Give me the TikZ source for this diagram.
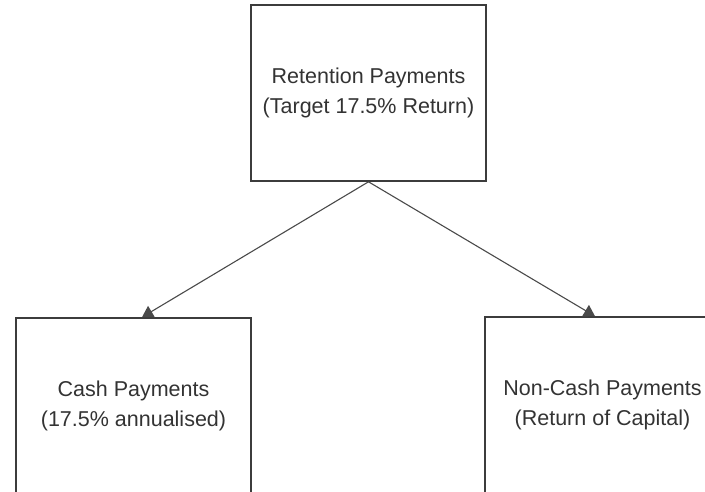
\documentclass[tikz,border=0pt]{standalone}
\usepackage{fontspec}
\setmainfont{Liberation Sans}
\usetikzlibrary{arrows.meta}
\definecolor{boxc}{HTML}{3C3C3C}
\definecolor{linec}{HTML}{4A4A4A}
\definecolor{txtc}{HTML}{333333}
\begin{document}
\begin{tikzpicture}[x=1pt,y=-1pt,
  box/.style={draw=boxc, line width=1.6pt, minimum width=235pt, minimum height=176pt,
    align=center, font=\fontsize{21.5}{30}\selectfont, text=txtc, inner sep=0pt},
  conn/.style={draw=linec, line width=1.1pt, -{Triangle[width=13pt,length=11pt]}}]
\useasboundingbox (0,0) rectangle (705,492);
\clip (0,0) rectangle (705,492);
\node[box] (top) at (368.5,93) {Retention Payments\\(Target 17.5\% Return)};
\node[box] (left) at (133.5,406) {Cash Payments\\(17.5\% annualised)};
\node[box] (right) at (602.5,405) {Non-Cash Payments\\(Return of Capital)};
\draw[conn] (top.south) -- ([xshift=8.5pt]left.north);
\draw[conn] (top.south) -- ([xshift=-7.5pt]right.north);
\end{tikzpicture}
\end{document}
